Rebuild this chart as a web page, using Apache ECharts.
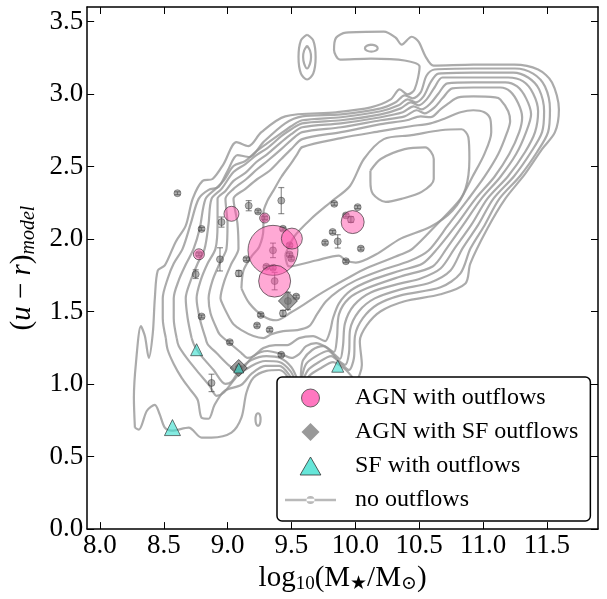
<!DOCTYPE html>
<html><head><meta charset="utf-8">
<script src="https://cdn.jsdelivr.net/npm/echarts@6/dist/echarts.min.js"></script>
<style>html,body{margin:0;padding:0;background:#fff}#c{width:607px;height:599px}</style>
</head><body><div id="c"></div>
<script>
const xTicks=[8.0,8.5,9.0,9.5,10.0,10.5,11.0,11.5];
const yTicks=[0.0,0.5,1.0,1.5,2.0,2.5,3.0,3.5];
// [x, y, marker diameter]
const agnOutflows=[[9.03,2.174,15],[9.29,2.145,10],[8.775,1.895,11],[9.355,1.922,50],[9.503,2.003,21],[9.368,1.71,32],[9.979,2.117,23]];
const agnSfOutflows=[[9.472,1.573,19],[9.087,1.111,17]];
const sfOutflows=[[8.757,1.237,12],[9.087,1.111,10],[9.862,1.123,12],[8.568,0.70,16]];
// [x, y, error]
const noOutflows=[[8.607,2.316,0.01],[9.165,2.23,0.035],[8.952,2.117,0.035],[8.796,2.07,0.01],[8.775,1.895,0.01],[8.94,1.86,0.08],[9.147,1.861,0.01],[8.75,1.758,0.03],[9.087,1.763,0.02],[9.42,2.265,0.09],[9.29,2.145,0.01],[9.238,2.19,0.01],[9.835,2.243,0.01],[10.018,2.22,0.01],[9.965,2.135,0.02],[9.926,2.163,0.01],[9.355,1.922,0.05],[9.368,1.71,0.06],[9.822,2.049,0.01],[9.763,1.975,0.01],[9.862,1.984,0.046],[10.043,1.934,0.01],[9.926,1.847,0.01],[9.485,1.957,0.01],[9.485,1.893,0.01],[9.498,1.866,0.01],[9.355,1.802,0.01],[9.303,1.809,0.01],[9.433,2.071,0.01],[9.537,1.603,0.01],[9.472,1.573,0.06],[9.433,1.488,0.02],[9.259,1.477,0.01],[8.796,1.466,0.01],[9.23,1.404,0.01],[9.329,1.374,0.01],[9.017,1.289,0.01],[9.42,1.202,0.01],[8.874,1.008,0.06],[9.087,1.111,0.01]];
// density contours of the comparison sample, outermost (1) to innermost (10)
const contour1=[[8.274,0.70],[8.266,0.905],[8.282,1.145],[8.321,1.399],[8.352,1.331],[8.383,1.18],[8.414,1.351],[8.43,1.591],[8.453,1.783],[8.508,1.818],[8.594,1.982],[8.672,2.092],[8.726,2.277],[8.804,2.401],[8.882,2.414],[8.968,2.517],[9.069,2.668],[9.163,2.641],[9.264,2.737],[9.451,2.846],[9.849,2.874],[10.121,2.908],[10.277,2.963],[10.347,3.032],[10.41,2.997],[10.464,3.032],[10.503,3.189],[10.386,3.231],[10.121,3.244],[9.88,3.237],[9.833,3.306],[9.849,3.388],[9.926,3.423],[10.223,3.43],[10.316,3.388],[10.363,3.34],[10.441,3.395],[10.495,3.361],[10.55,3.258],[10.612,3.196],[10.924,3.203],[11.244,3.203],[11.431,3.169],[11.54,3.08],[11.594,2.894],[11.563,2.737],[11.462,2.62],[11.329,2.449],[11.173,2.277],[11.033,2.071],[10.9,1.831],[10.862,1.694],[10.667,1.619],[10.386,1.571],[10.199,1.502],[10.09,1.406],[10.035,1.296],[10.051,1.132],[10.004,1.029],[9.926,1.097],[9.825,1.152],[9.732,1.111],[9.638,1.056],[9.576,0.96],[9.552,0.864],[9.513,0.94],[9.474,1.043],[9.404,1.097],[9.303,1.091],[9.202,1.043],[9.147,0.94],[9.108,0.768],[9.03,0.665],[8.874,0.631],[8.796,0.631],[8.695,0.70],[8.562,0.679],[8.508,0.70],[8.469,0.789],[8.43,0.857],[8.368,0.816],[8.305,0.686],[8.274,0.70]];
const contour2=[[8.516,1.317],[8.492,1.454],[8.492,1.591],[8.531,1.728],[8.578,1.831],[8.648,1.934],[8.711,2.106],[8.773,2.277],[8.851,2.339],[8.929,2.359],[8.999,2.469],[9.077,2.579],[9.170,2.565],[9.280,2.668],[9.451,2.798],[9.584,2.846],[9.888,2.860],[10.199,2.901],[10.316,2.943],[10.386,2.991],[10.449,2.970],[10.511,3.011],[10.558,3.128],[10.620,3.169],[10.924,3.176],[11.251,3.176],[11.392,3.141],[11.485,3.052],[11.524,2.894],[11.509,2.737],[11.423,2.600],[11.290,2.435],[11.127,2.277],[11.010,2.092],[10.901,1.934],[10.823,1.763],[10.667,1.667],[10.355,1.612],[10.176,1.550],[10.059,1.454],[9.997,1.331],[9.989,1.180],[9.950,1.097],[9.888,1.139],[9.810,1.193],[9.716,1.152],[9.630,1.097],[9.584,1.008],[9.560,0.905],[9.529,0.974],[9.482,1.063],[9.404,1.125],[9.295,1.125],[9.186,1.070],[9.108,0.995],[8.976,0.953],[8.898,0.857],[8.851,0.761],[8.796,0.768],[8.765,0.892],[8.703,0.967],[8.640,1.043],[8.578,1.139],[8.531,1.235],[8.516,1.317]];
const contour3=[[8.601,1.317],[8.578,1.454],[8.578,1.591],[8.617,1.715],[8.672,1.824],[8.734,1.934],[8.781,2.071],[8.827,2.277],[8.905,2.346],[8.968,2.401],[9.046,2.504],[9.139,2.538],[9.217,2.600],[9.311,2.661],[9.420,2.730],[9.498,2.778],[9.584,2.819],[9.888,2.840],[10.199,2.881],[10.339,2.922],[10.410,2.963],[10.472,2.943],[10.534,2.984],[10.589,3.080],[10.651,3.141],[10.924,3.148],[11.236,3.148],[11.353,3.114],[11.439,3.032],[11.478,2.881],[11.462,2.737],[11.376,2.600],[11.244,2.435],[11.080,2.277],[10.963,2.099],[10.838,1.934],[10.745,1.783],[10.589,1.701],[10.355,1.653],[10.152,1.591],[10.028,1.502],[9.958,1.372],[9.950,1.214],[9.919,1.132],[9.864,1.166],[9.786,1.228],[9.693,1.193],[9.615,1.139],[9.584,1.056],[9.568,0.940],[9.537,1.008],[9.490,1.091],[9.404,1.152],[9.295,1.159],[9.186,1.125],[9.077,1.056],[8.968,0.940],[8.913,0.919],[8.859,0.988],[8.773,1.077],[8.679,1.180],[8.617,1.262],[8.601,1.317]];
const contour4=[[8.718,1.317],[8.687,1.454],[8.672,1.591],[8.711,1.715],[8.765,1.831],[8.820,1.934],[8.851,2.106],[8.874,2.277],[8.952,2.346],[9.046,2.462],[9.139,2.517],[9.225,2.579],[9.311,2.627],[9.420,2.709],[9.498,2.757],[9.584,2.798],[9.888,2.819],[10.199,2.860],[10.355,2.901],[10.433,2.943],[10.495,2.922],[10.558,2.963],[10.620,3.045],[10.682,3.114],[10.924,3.114],[11.197,3.114],[11.314,3.087],[11.392,3.004],[11.431,2.881],[11.407,2.737],[11.329,2.600],[11.197,2.435],[11.033,2.277],[10.909,2.099],[10.776,1.934],[10.667,1.797],[10.511,1.728],[10.355,1.694],[10.121,1.632],[9.989,1.543],[9.919,1.420],[9.903,1.262],[9.880,1.173],[9.833,1.207],[9.747,1.262],[9.662,1.235],[9.591,1.166],[9.576,1.097],[9.568,0.974],[9.545,1.036],[9.498,1.118],[9.412,1.180],[9.303,1.193],[9.186,1.166],[9.093,1.097],[9.030,1.015],[8.983,1.001],[8.890,1.097],[8.796,1.193],[8.742,1.262],[8.718,1.317]];
const contour5=[[8.827,1.317],[8.781,1.454],[8.757,1.591],[8.789,1.715],[8.843,1.831],[8.905,1.934],[8.921,2.106],[8.921,2.277],[8.983,2.332],[9.046,2.401],[9.139,2.456],[9.225,2.531],[9.311,2.586],[9.420,2.668],[9.498,2.723],[9.584,2.771],[9.888,2.798],[10.199,2.840],[10.371,2.874],[10.456,2.915],[10.519,2.894],[10.589,2.936],[10.651,3.004],[10.721,3.073],[10.924,3.080],[11.173,3.080],[11.267,3.052],[11.337,2.970],[11.376,2.860],[11.337,2.737],[11.259,2.586],[11.135,2.428],[10.986,2.277],[10.846,2.099],[10.714,1.934],[10.605,1.811],[10.355,1.742],[10.090,1.660],[9.950,1.591],[9.872,1.482],[9.856,1.317],[9.833,1.221],[9.771,1.255],[9.693,1.283],[9.615,1.262],[9.560,1.207],[9.498,1.180],[9.420,1.207],[9.311,1.228],[9.202,1.193],[9.124,1.111],[9.093,1.077],[9.015,1.125],[8.913,1.214],[8.843,1.276],[8.827,1.317]];
const contour6=[[8.913,1.385],[8.866,1.488],[8.851,1.591],[8.882,1.715],[8.937,1.831],[8.991,1.934],[8.999,2.106],[8.983,2.277],[9.046,2.346],[9.147,2.414],[9.233,2.483],[9.311,2.538],[9.420,2.620],[9.498,2.682],[9.584,2.737],[9.888,2.771],[10.199,2.819],[10.386,2.846],[10.480,2.888],[10.542,2.867],[10.620,2.908],[10.682,2.970],[10.760,3.039],[10.924,3.045],[11.135,3.045],[11.212,3.018],[11.275,2.936],[11.306,2.840],[11.283,2.737],[11.205,2.586],[11.088,2.428],[10.940,2.277],[10.792,2.099],[10.643,1.934],[10.527,1.831],[10.355,1.783],[10.121,1.715],[9.965,1.646],[9.872,1.557],[9.825,1.454],[9.802,1.365],[9.763,1.296],[9.669,1.331],[9.560,1.317],[9.467,1.269],[9.373,1.269],[9.280,1.248],[9.202,1.193],[9.155,1.180],[9.108,1.214],[9.015,1.283],[8.937,1.344],[8.913,1.385]];
const contour7=[[9.015,1.454],[8.968,1.536],[8.944,1.591],[8.976,1.715],[9.030,1.831],[9.085,1.934],[9.077,2.106],[9.046,2.277],[9.139,2.346],[9.233,2.414],[9.326,2.469],[9.420,2.552],[9.498,2.620],[9.584,2.689],[9.888,2.737],[10.199,2.792],[10.402,2.819],[10.511,2.846],[10.589,2.840],[10.667,2.894],[10.729,2.936],[10.807,2.977],[10.924,2.984],[11.096,2.977],[11.135,2.963],[11.197,2.881],[11.212,2.812],[11.189,2.737],[11.119,2.586],[11.010,2.428],[10.885,2.277],[10.729,2.099],[10.573,1.921],[10.433,1.852],[10.199,1.783],[10.004,1.715],[9.872,1.646],[9.771,1.571],[9.700,1.482],[9.638,1.399],[9.545,1.372],[9.435,1.365],[9.342,1.344],[9.280,1.317],[9.202,1.331],[9.108,1.372],[9.046,1.413],[9.015,1.454]];
const contour8=[[9.108,1.660],[9.124,1.783],[9.186,1.879],[9.248,1.948],[9.280,2.071],[9.280,2.181],[9.311,2.263],[9.357,2.332],[9.420,2.428],[9.498,2.524],[9.545,2.586],[9.584,2.634],[9.888,2.696],[10.199,2.744],[10.433,2.778],[10.589,2.798],[10.706,2.833],[10.823,2.874],[10.924,2.888],[11.010,2.874],[11.057,2.826],[11.064,2.737],[11.010,2.586],[10.916,2.428],[10.823,2.277],[10.636,2.099],[10.449,1.934],[10.355,1.893],[10.082,1.797],[9.934,1.728],[9.810,1.667],[9.693,1.605],[9.599,1.550],[9.498,1.495],[9.381,1.440],[9.280,1.468],[9.170,1.557],[9.108,1.660]];
const contour9=[[9.451,1.893],[9.521,2.017],[9.654,2.140],[9.810,2.257],[9.958,2.366],[10.067,2.552],[10.223,2.689],[10.441,2.716],[10.667,2.750],[10.831,2.757],[10.885,2.702],[10.893,2.552],[10.862,2.346],[10.760,2.195],[10.589,2.085],[10.355,2.003],[10.160,1.893],[10.004,1.838],[9.926,1.852],[9.872,1.886],[9.693,1.852],[9.482,1.811],[9.451,1.893]];
const contour10=[[10.118,2.471],[10.199,2.552],[10.386,2.62],[10.547,2.632],[10.614,2.552],[10.614,2.414],[10.519,2.325],[10.36,2.277],[10.238,2.256],[10.137,2.311],[10.118,2.4],[10.118,2.471]];
const islandA=[[9.622,3.41],[9.67,3.37],[9.689,3.255],[9.67,3.14],[9.622,3.10],[9.574,3.14],[9.555,3.255],[9.574,3.37],[9.622,3.41]];
const islandB=[[9.622,3.334],[9.645,3.30],[9.653,3.255],[9.645,3.21],[9.622,3.176],[9.599,3.21],[9.591,3.255],[9.599,3.30],[9.622,3.334]];
const islandC=[[10.125,3.34],[10.16,3.333],[10.175,3.316],[10.16,3.299],[10.125,3.292],[10.09,3.299],[10.075,3.316],[10.09,3.333],[10.125,3.34]];
const islandD=[[9.238,0.802],[9.252,0.79],[9.258,0.757],[9.252,0.724],[9.238,0.712],[9.224,0.724],[9.218,0.757],[9.224,0.79],[9.238,0.802]];
const contours=[contour1,contour2,contour3,contour4,contour5,contour6,contour7,contour8,contour9,contour10,islandA,islandB,islandC,islandD];

const chart=echarts.init(document.getElementById('c'),null,{renderer:'canvas'});
const FONT='Liberation Serif, DejaVu Serif, serif';
const lineGray='rgba(150,150,150,0.8)';
const contourSeries=contours.map(c=>({type:'line',data:c,symbol:'none',smooth:0.3,silent:true,z:1,
  lineStyle:{color:lineGray,width:2.2},animation:false}));
function frameAxis(pos,isX){
  return {type:'value',position:pos,min:isX?7.9:0,max:isX?11.9:3.6,
    axisLine:{show:true,onZero:false,lineStyle:{color:'#000',width:1.5}},
    axisTick:{show:true,inside:true,length:7,customValues:isX?xTicks:yTicks,lineStyle:{color:'#000',width:1}},
    axisLabel:{show:false,customValues:isX?xTicks:yTicks},splitLine:{show:false}};
}
const errSeries={type:'custom',name:'errs',z:3,silent:true,data:noOutflows,
  renderItem:function(params,api){
    const x=api.value(0),y=api.value(1),e=api.value(2);
    const t=api.coord([x,y+e]),b=api.coord([x,y-e]);
    const st={stroke:'rgba(70,70,70,0.6)',lineWidth:1.2};
    return {type:'group',children:[
      {type:'line',shape:{x1:t[0],y1:t[1],x2:b[0],y2:b[1]},style:st},
      {type:'line',shape:{x1:t[0]-3,y1:t[1],x2:t[0]+3,y2:t[1]},style:st},
      {type:'line',shape:{x1:b[0]-3,y1:b[1],x2:b[0]+3,y2:b[1]},style:st}]};
  },encode:{x:0,y:1}};
const option={
  animation:false,
  backgroundColor:'#fff',
  grid:{left:85,right:9,top:7,bottom:66,containLabel:false},
  xAxis:[{type:'value',position:'bottom',min:7.9,max:11.9,
    name:'log{s|10}(M{s|★}/M{s|⊙})',nameLocation:'middle',nameGap:28,
    nameTextStyle:{fontFamily:FONT,fontSize:29,color:'#000',rich:{s:{fontFamily:FONT,fontSize:19,verticalAlign:'bottom',padding:[12,0,0,0]}}},
    axisLine:{show:true,onZero:false,lineStyle:{color:'#000',width:1.5}},
    axisTick:{show:true,inside:true,length:7,customValues:xTicks,lineStyle:{color:'#000',width:1}},
    axisLabel:{customValues:xTicks,formatter:v=>v.toFixed(1),fontFamily:FONT,fontSize:27,color:'#000',margin:3},
    splitLine:{show:false}},
    frameAxis('top',true)],
  yAxis:[{type:'value',position:'left',min:0,max:3.6,
    name:'({i|u} − {i|r}){s|model}',nameLocation:'middle',nameGap:46,nameRotate:90,
    nameTextStyle:{fontFamily:FONT,fontSize:29,color:'#000',rich:{i:{fontFamily:FONT,fontSize:29,fontStyle:'italic'},s:{fontFamily:FONT,fontSize:20,fontStyle:'italic',verticalAlign:'bottom',padding:[12,0,0,0]}}},
    axisLine:{show:true,onZero:false,lineStyle:{color:'#000',width:1.5}},
    axisTick:{show:true,inside:true,length:7,customValues:yTicks,lineStyle:{color:'#000',width:1}},
    axisLabel:{customValues:yTicks,formatter:v=>v.toFixed(1),fontFamily:FONT,fontSize:27,color:'#000',margin:4},
    splitLine:{show:false}},
    frameAxis('right',false)],
  legend:{orient:'vertical',left:277,top:377,padding:[9,12,9,8],itemGap:10,itemWidth:51,itemHeight:18,
    backgroundColor:'#fff',borderColor:'#000',borderWidth:1.5,borderRadius:5,z:20,symbolKeepAspect:true,
    textStyle:{fontFamily:FONT,fontSize:24,color:'#000',padding:[0,0,0,14]},
    data:[{name:'AGN with outflows',icon:'circle',itemStyle:{color:'#ff55b0',borderColor:'#444',borderWidth:1}},
      {name:'AGN with SF outflows',icon:'path://M8,0L16,8L8,16L0,8Z',itemStyle:{color:'#808080',borderWidth:0}},
      {name:'SF with outflows',icon:'path://M7.5,0L15,13L0,13Z',itemStyle:{color:'#40e0d0',borderColor:'#333',borderWidth:1}},
      {name:'no outflows',icon:'path://M0,2.75L51,2.75L51,5.25L0,5.25Z M21.5,4A4,4 0 1,0 29.5,4A4,4 0 1,0 21.5,4Z',itemStyle:{color:'#a8a8a8',borderWidth:0}}]},
  series:[...contourSeries,
    errSeries,
    {type:'scatter',name:'no outflows',data:noOutflows,symbol:'circle',symbolSize:7,z:4,
      itemStyle:{color:'rgba(80,80,80,0.55)',borderColor:'rgba(30,30,30,0.6)',borderWidth:0.8}},
    {type:'scatter',name:'AGN with outflows',data:agnOutflows,symbol:'circle',symbolSize:d=>d[2],z:5,
      itemStyle:{color:'rgba(255,80,170,0.62)',borderColor:'rgba(40,40,40,0.8)',borderWidth:1}},
    {type:'scatter',name:'AGN with SF outflows',data:agnSfOutflows,symbol:'diamond',symbolSize:d=>d[2],z:6,
      itemStyle:{color:'rgba(110,110,110,0.85)',borderColor:'rgba(40,40,40,0.8)',borderWidth:1}},
    {type:'scatter',name:'SF with outflows',data:sfOutflows,symbol:'triangle',symbolSize:d=>d[2],z:7,
      itemStyle:{color:'rgba(64,224,208,0.8)',borderColor:'rgba(40,40,40,0.8)',borderWidth:1}}
  ]
};
chart.setOption(option);
</script></body></html>
